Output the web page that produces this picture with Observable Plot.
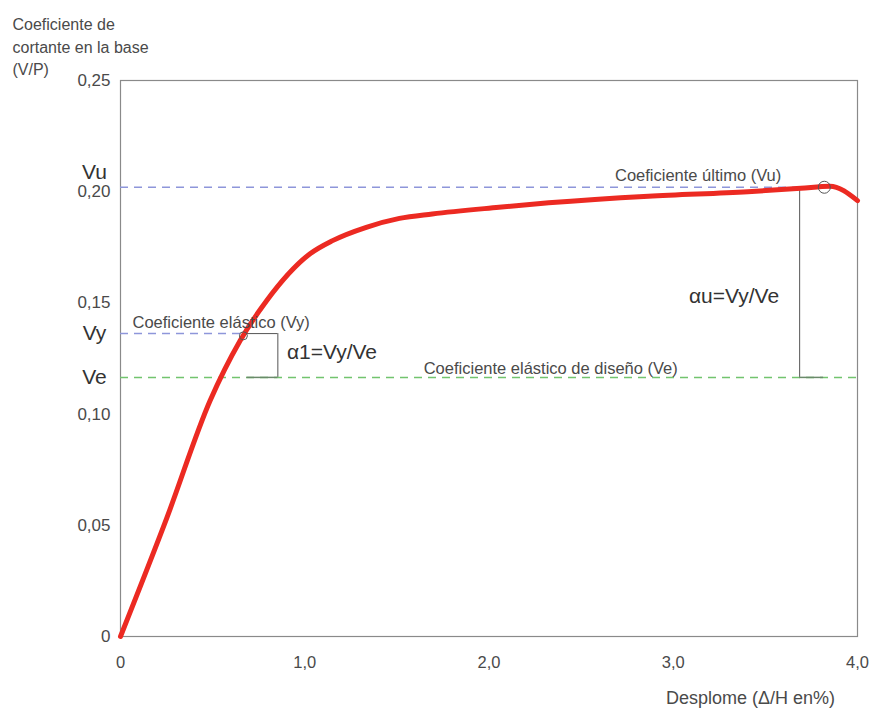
<!DOCTYPE html>
<html>
<head>
<meta charset="utf-8">
<script src="https://cdn.jsdelivr.net/npm/d3@7"></script>
<script src="https://cdn.jsdelivr.net/npm/@observablehq/plot@0.6"></script>
<style>
  html, body { margin: 0; padding: 0; background: #fff; }
  svg { font-family: "Liberation Sans", Arial, sans-serif; }
</style>
</head>
<body>
<div id="chart"></div>
<script>
// Capacity curve (Desplome Δ/H % vs V/P)
const dispX = [0, 0.25, 0.486, 0.649, 0.793, 1.027, 1.151, 1.334, 1.514, 1.692, 2.054, 2.324, 2.865, 3.405, 3.692, 3.85, 4.0];
const coefY = [0, 0.053, 0.106, 0.133, 0.151, 0.172, 0.178, 0.184, 0.188, 0.190, 0.193, 0.195, 0.198, 0.200, 0.2015, 0.2025, 0.196];

// Reference levels
const refNames = ["Vu", "Vy", "Ve"];
const refValues = [0.202, 0.1362, 0.1165];
const refEndX = [3.82, 0.667, 4.0];

// Tick values
const xTicks = [0, 1, 2, 3, 4];
const yTicks = [0, 0.05, 0.10, 0.15, 0.20, 0.25];

// Brackets
const alpha1X = 0.854;
const alphaUX = 3.686;
const ultimateX = 3.82;
const yieldX = 0.667;

const curve = dispX.map((x, i) => ({x, y: coefY[i]}));
const refs = refNames.map((n, i) => ({name: n, v: refValues[i], end: refEndX[i]}));
const Vu = refValues[0], Vy = refValues[1], Ve = refValues[2];

const fmtY = d => d === 0 ? "0" : d.toFixed(2).replace(".", ",");
const fmtX = d => d === 0 ? "0" : d.toFixed(1).replace(".", ",");
const textCol = "#4a4a4a";

const chart = Plot.plot({
  width: 871,
  height: 711,
  marginLeft: 120,
  marginRight: 14,
  marginTop: 80,
  marginBottom: 75,
  style: {fontFamily: "Liberation Sans, Arial, sans-serif", fontSize: "17px", color: textCol, background: "#fff"},
  x: {domain: [0, 4], label: null, axis: null},
  y: {domain: [0, 0.25], ticks: yTicks, tickFormat: fmtY, tickSize: 0, tickPadding: 10, label: null},
  marks: [
    Plot.axisX({ticks: xTicks, tickFormat: fmtX, tickSize: 0, tickPadding: 20, fontSize: 16.5, label: null}),
    Plot.frame({stroke: "#8a8a8a", strokeWidth: 1.2}),
    // reference dashed lines
    Plot.ruleY([refs[0]], {y: "v", x1: 0, x2: "end", stroke: "#8e96da", strokeWidth: 1.5, strokeDasharray: "8,6"}),
    Plot.ruleY([refs[1]], {y: "v", x1: 0, x2: "end", stroke: "#8e96da", strokeWidth: 1.5, strokeDasharray: "8,6"}),
    Plot.ruleY([refs[2]], {y: "v", x1: 0, x2: "end", stroke: "#72c46e", strokeWidth: 1.5, strokeDasharray: "8,6"}),
    // brackets
    Plot.ruleX([alpha1X], {y1: Ve, y2: Vy, stroke: "#555", strokeWidth: 1}),
    Plot.ruleY([Vy], {x1: yieldX, x2: alpha1X, stroke: "#555", strokeWidth: 1}),
    Plot.ruleY([Ve], {x1: yieldX + 0.02, x2: alpha1X, stroke: "#6a8a6a", strokeWidth: 1.5}),
    Plot.ruleX([alphaUX], {y1: Ve, y2: Vu, stroke: "#555", strokeWidth: 1}),
    Plot.ruleY([Ve], {x1: alphaUX, x2: alphaUX + 0.13, stroke: "#6a8a6a", strokeWidth: 1.5}),
    Plot.ruleY([Vu], {x1: alphaUX, x2: alphaUX + 0.08, stroke: "#555", strokeWidth: 1}),
    // curve
    Plot.line(curve, {x: "x", y: "y", stroke: "#ec2a22", strokeWidth: 5, curve: "monotone-x", strokeLinejoin: "round", strokeLinecap: "round"}),
    // markers
    Plot.dot([{x: ultimateX, y: Vu}], {x: "x", y: "y", r: 6, stroke: "#555", fill: "none", strokeWidth: 1}),
    Plot.dot([{x: yieldX, y: Vy - 0.001}], {x: "x", y: "y", r: 4, stroke: "#555", fill: "none", strokeWidth: 1}),
    // annotations
    Plot.text(["Coeficiente último (Vu)"], {x: 3.135, y: 0.2073, text: d => d, textAnchor: "middle", fontSize: 16.5, fill: textCol}),
    Plot.text(["Coeficiente elástico (Vy)"], {x: 0.065, y: 0.1412, text: d => d, textAnchor: "start", fontSize: 16.5, fill: textCol}),
    Plot.text(["Coeficiente elástico de diseño (Ve)"], {x: 2.335, y: 0.1205, text: d => d, textAnchor: "middle", fontSize: 16.5, fill: textCol}),
    Plot.text(["α1=Vy/Ve"], {x: 0.903, y: 0.1277, text: d => d, textAnchor: "start", fontSize: 21, fill: "#333"}),
    Plot.text(["αu=Vy/Ve"], {x: 3.33, y: 0.1529, text: d => d, textAnchor: "middle", fontSize: 21, fill: "#333"}),
    // level names on the left
    Plot.text(refs, {x: 0, y: d => d.name === "Vu" ? 0.2086 : d.v, text: "name", dx: -26, textAnchor: "middle", fontSize: 21, fill: "#333"}),
    // axis titles
    Plot.text(["Coeficiente de\ncortante en la base\n(V/P)"], {frameAnchor: "top-left", text: d => d, dx: -108, dy: -35, textAnchor: "start", lineAnchor: "middle", lineHeight: 1.4, fontSize: 16, fill: textCol}),
    Plot.text(["Desplome (Δ/H en%)"], {frameAnchor: "bottom-right", text: d => d, dx: -107, dy: 67, textAnchor: "middle", fontSize: 18, fill: textCol})
  ]
});
document.getElementById("chart").appendChild(chart);
</script>
</body>
</html>
